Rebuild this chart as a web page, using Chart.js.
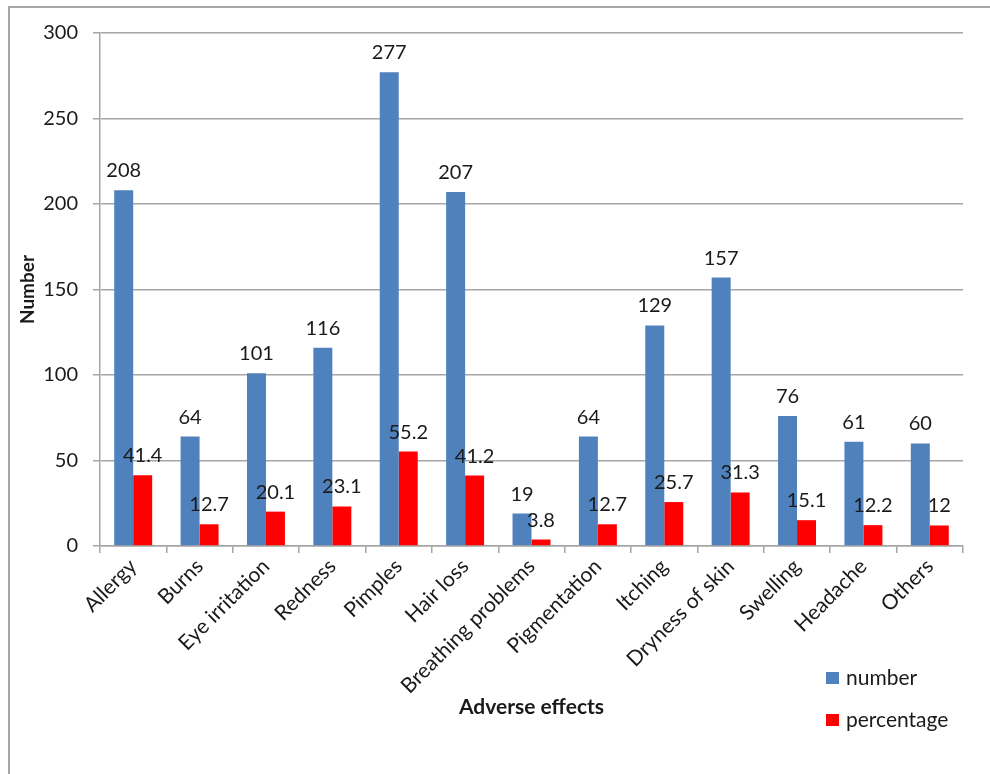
<!DOCTYPE html>
<html>
<head>
<meta charset="utf-8">
<script src="https://cdn.jsdelivr.net/npm/chart.js@4"></script>
<style>
    html, body { margin: 0; padding: 0; background: #fff; }
    #wrap { position: relative; width: 990px; height: 774px; overflow: hidden; }
    #frame {
        position: absolute; left: 8px; top: 6px; width: 2000px; height: 2000px;
        border-left: 2px solid #a6a6a6; border-top: 2px solid #a6a6a6;
    }
    #chart { position: absolute; left: 0; top: 0; }
</style>
</head>
<body>
<div id="wrap">
    <div id="frame"></div>
    <canvas id="chart" width="990" height="774"></canvas>
</div>
<script>
const categories = [
    'Allergy', 'Burns', 'Eye irritation', 'Redness', 'Pimples', 'Hair loss',
    'Breathing problems', 'Pigmentation', 'Itching', 'Dryness of skin',
    'Swelling', 'Headache', 'Others'
];
const numberValues = [208, 64, 101, 116, 277, 207, 19, 64, 129, 157, 76, 61, 60];
const percentageValues = [41.4, 12.7, 20.1, 23.1, 55.2, 41.2, 3.8, 12.7, 25.7, 31.3, 15.1, 12.2, 12];
const yTicks = [0, 50, 100, 150, 200, 250, 300];

const FONT = 'Lato, Calibri, "Open Sans", sans-serif';
const GRID = '#a6a6a6';
const INK = '#1a1a1a';

// value labels above every bar
const barLabels = {
    id: 'barLabels',
    afterDatasetsDraw(chart) {
        const ctx = chart.ctx;
        ctx.save();
        ctx.font = '20px ' + FONT;
        ctx.fillStyle = INK;
        ctx.textAlign = 'center';
        ctx.textBaseline = 'alphabetic';
        chart.data.datasets.forEach((ds, i) => {
            chart.getDatasetMeta(i).data.forEach((bar, j) => {
                ctx.fillText(String(ds.data[j]), bar.x, bar.y - 13);
            });
        });
        ctx.restore();
    }
};

// legend stacked in the lower right corner
const sideLegend = {
    id: 'sideLegend',
    afterDraw(chart) {
        const ctx = chart.ctx;
        ctx.save();
        ctx.font = '21px ' + FONT;
        ctx.textBaseline = 'middle';
        ctx.textAlign = 'left';
        chart.data.datasets.forEach((ds, i) => {
            const y = 678 + i * 42;
            ctx.fillStyle = ds.backgroundColor;
            ctx.fillRect(826, y - 6, 13, 12);
            ctx.fillStyle = INK;
            ctx.fillText(ds.label, 846, y);
        });
        ctx.restore();
    }
};

new Chart(document.getElementById('chart').getContext('2d'), {
    type: 'bar',
    data: {
        labels: categories,
        datasets: [
            { label: 'number', data: numberValues, backgroundColor: '#4f81bd' },
            { label: 'percentage', data: percentageValues, backgroundColor: '#ff0000' }
        ]
    },
    options: {
        responsive: false,
        animation: false,
        devicePixelRatio: 1,
        layout: { padding: { left: 8, top: 33, right: 27, bottom: 54 } },
        datasets: { bar: { categoryPercentage: 0.572, barPercentage: 1 } },
        plugins: {
            legend: { display: false },
            tooltip: { enabled: false }
        },
        scales: {
            x: {
                offset: true,
                afterFit(scale) { scale.height = 174; },
                grid: { offset: true, drawOnChartArea: false, drawTicks: true, tickLength: 7, color: GRID, lineWidth: 1.5 },
                border: { color: GRID, width: 1.5 },
                ticks: {
                    color: INK,
                    font: { family: FONT, size: 21 },
                    minRotation: 45, maxRotation: 45,
                    padding: 1,
                    autoSkip: false
                },
                title: {
                    display: true,
                    text: 'Adverse effects',
                    color: INK,
                    font: { family: FONT, size: 21, weight: 'bold' },
                    padding: { top: 4, bottom: 0 }
                }
            },
            y: {
                min: 0, max: 300,
                afterFit(scale) { scale.width = 92; },
                afterBuildTicks(scale) { scale.ticks = yTicks.map(v => ({ value: v })); },
                grid: { color: GRID, lineWidth: 1.5, tickLength: 7 },
                border: { color: GRID, width: 1.5 },
                ticks: {
                    color: INK,
                    font: { family: FONT, size: 20 },
                    padding: 15
                },
                title: {
                    display: true,
                    text: 'Number',
                    color: INK,
                    font: { family: FONT, size: 19, weight: 'bold' },
                    padding: { top: 8, bottom: 0 }
                }
            }
        }
    },
    plugins: [barLabels, sideLegend]
});
</script>
</body>
</html>
